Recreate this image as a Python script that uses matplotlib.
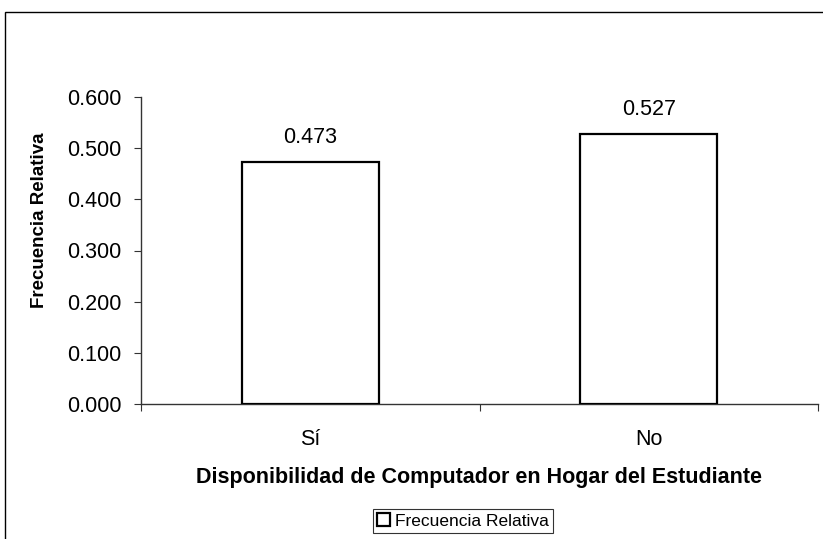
import matplotlib
matplotlib.use("Agg")
import matplotlib.pyplot as plt
from matplotlib.patches import Rectangle

# Data
categorias = ["Sí", "No"]
frecuencia = [0.473, 0.527]
y_ticks = [0.0, 0.1, 0.2, 0.3, 0.4, 0.5, 0.6]

plt.rcParams['font.family'] = ['Liberation Sans', 'DejaVu Sans']

fig = plt.figure(figsize=(8.23, 5.39), dpi=100)
ax = fig.add_axes([141/823, 1-404/539, 677/823, 307/539])

x = list(range(len(categorias)))
bars = ax.bar(x, frecuencia, width=0.405, color='white', edgecolor='black',
              linewidth=1.6, label='Frecuencia Relativa', zorder=3)

for xi, v in zip(x, frecuencia):
    ax.annotate(f"{v:.3f}", (xi, v), xytext=(0, 10), textcoords='offset points',
                ha='center', va='bottom', fontsize=15.5)

ax.set_xlim(-0.5, 1.5)
ax.set_ylim(0, 0.6)
ax.set_yticks(y_ticks)
ax.set_yticklabels([f"{t:.3f}" for t in y_ticks], fontsize=15.5)
ax.set_xticks([-0.5, 0.5, 1.5])
ax.set_xticklabels([])
ax.set_xticks(x, minor=True)
ax.set_xticklabels(categorias, minor=True, fontsize=15.5)
ax.tick_params(axis='x', which='minor', length=0, pad=18)
ax.tick_params(axis='x', which='major', length=5, direction='out', color='#333333')
ax.tick_params(axis='y', length=5, direction='out', pad=9, color='#333333')

for s in ['top', 'right']:
    ax.spines[s].set_visible(False)
for s in ['left', 'bottom']:
    ax.spines[s].set_color('#333333')
    ax.spines[s].set_linewidth(1.0)

fig.text(479/823, 1-478/539, "Disponibilidad de Computador en Hogar del Estudiante",
         ha='center', va='center', fontsize=15.5, fontweight='bold')
fig.text(40/823, 1-220/539, "Frecuencia Relativa", rotation=90,
         ha='center', va='center', fontsize=13.5, fontweight='bold')

# outer chart frame
fig.patches.append(Rectangle((5/823, -0.1), 1.1, 1-12/539+0.1, fill=False,
                             edgecolor='black', linewidth=1.0,
                             transform=fig.transFigure, figure=fig))

leg = fig.legend(handles=[bars], labels=['Frecuencia Relativa'], loc='center',
                 bbox_to_anchor=(463/823, 1-521/539), fontsize=12.5,
                 frameon=True, fancybox=False, edgecolor='black',
                 handlelength=0.7, handleheight=0.7, handletextpad=0.3,
                 borderpad=0.25, borderaxespad=0)
leg.get_frame().set_linewidth(0.8)

fig.savefig("out.png", dpi=100)
